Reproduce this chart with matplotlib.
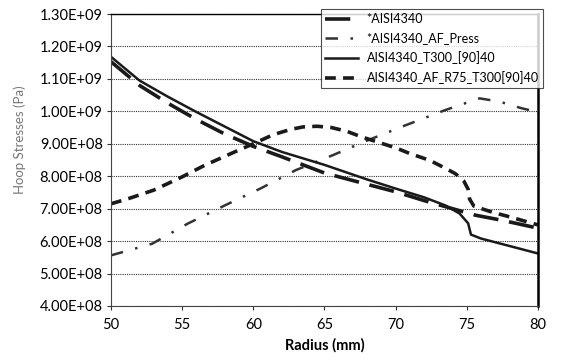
import numpy as np
import matplotlib.pyplot as plt

# values (stresses in units of 1e8 Pa)
r_4340 = [50, 52, 54, 56, 58, 60, 62, 65, 68, 70, 72, 74, 75.6, 77.5, 80]
s_4340 = [11.53, 10.8, 10.25, 9.75, 9.3, 8.92, 8.6, 8.1, 7.75, 7.52, 7.25, 7.0, 6.8, 6.64, 6.4]

r_press = [50, 52.9, 55.4, 58, 60.5, 63, 65.6, 68, 70.7, 73.5, 75.9, 77.3, 78.9, 80]
s_press = [5.56, 5.92, 6.54, 7.1, 7.62, 8.19, 8.65, 9.1, 9.57, 10.04, 10.4, 10.3, 10.09, 9.98]

r_t300 = [50, 52, 54, 56, 58, 60, 62, 65, 68, 70, 72, 73.5, 74.5, 75.1, 75.3, 76, 78, 80]
s_t300 = [11.68, 10.95, 10.45, 9.98, 9.53, 9.08, 8.75, 8.35, 7.9, 7.62, 7.35, 7.1, 6.85, 6.55, 6.2, 6.08, 5.85, 5.62]

r_r75 = [50, 51.3, 53, 55, 56.6, 58.7, 60, 61.4, 62.6, 63.5, 64.5, 65.5, 66.6, 67.5, 68.4,
         69.4, 70.1, 71, 72.4, 73.3, 74.2, 74.8, 75.1, 75.2, 75.5, 76.8, 78, 80]
s_r75 = [7.15, 7.32, 7.57, 7.98, 8.34, 8.75, 9.0, 9.28, 9.44, 9.52, 9.54, 9.5, 9.38, 9.23, 9.1,
         8.96, 8.86, 8.7, 8.49, 8.29, 8.08, 7.85, 7.6, 7.3, 7.08, 6.89, 6.75, 6.5]

labels = ['*AISI4340', '*AISI4340_AF_Press', 'AISI4340_T300_[90]40', 'AISI4340_AF_R75_T300[90]40']
yticks = np.arange(4e8, 1.3e9 + 1, 1e8)
xticks = [50, 55, 60, 65, 70, 75, 80]

plt.rcParams['font.family'] = ['Lato', 'DejaVu Sans']

fig = plt.figure(figsize=(5.62, 3.61), dpi=100)
ax = fig.add_axes([0.1975, 0.1524, 0.7595, 0.8088])

ax.plot(r_4340, np.array(s_4340) * 1e8, color='#1a1a1a', lw=2.6, ls=(0, (7, 3)), label=labels[0])
ax.plot(r_press, np.array(s_press) * 1e8, color='#333333', lw=1.8, ls=(0, (5, 5, 1, 5)), label=labels[1])
ax.plot(r_t300, np.array(s_t300) * 1e8, color='#1a1a1a', lw=1.8, ls='-', label=labels[2])
ax.plot(r_r75, np.array(s_r75) * 1e8, color='#1a1a1a', lw=2.6, ls=(0, (3, 2)), label=labels[3])

ax.set_xlim(50, 80)
ax.set_ylim(4e8, 1.3e9)
ax.set_xticks(xticks)
ax.set_yticks(yticks)
ax.set_yticklabels(['%.2fE+%02d' % (v / 10 ** int(np.log10(v)), int(np.log10(v))) for v in yticks])
ax.tick_params(axis='both', labelsize=10.5, length=3, width=0.8, color='#333333')
ax.tick_params(axis='x', pad=6)
ax.tick_params(axis='y', pad=3)

ax.grid(axis='y', color='#333333', ls=(0, (1, 1)), lw=0.8)
ax.set_axisbelow(True)
for side in ['left', 'bottom']:
    ax.spines[side].set_color('#444444')
    ax.spines[side].set_linewidth(0.8)
ax.spines['top'].set_linewidth(1.0)
ax.spines['right'].set_linewidth(1.8)

ax.set_xlabel('Radius (mm)', fontsize=10.5, fontweight='bold', labelpad=4)
ax.set_ylabel('Hoop Stresses (Pa)', fontsize=9.5, color='#777777')
ax.yaxis.set_label_coords(-0.2, 0.57)

leg = fig.legend(loc='upper left', bbox_to_anchor=(0.571, 0.975), fontsize=9,
                 frameon=True, fancybox=False, edgecolor='#222222', handlelength=2.6,
                 borderpad=0.35, labelspacing=0.55, handletextpad=0.7, borderaxespad=0)
leg.get_frame().set_linewidth(0.8)

fig.savefig('out.png', dpi=100)
